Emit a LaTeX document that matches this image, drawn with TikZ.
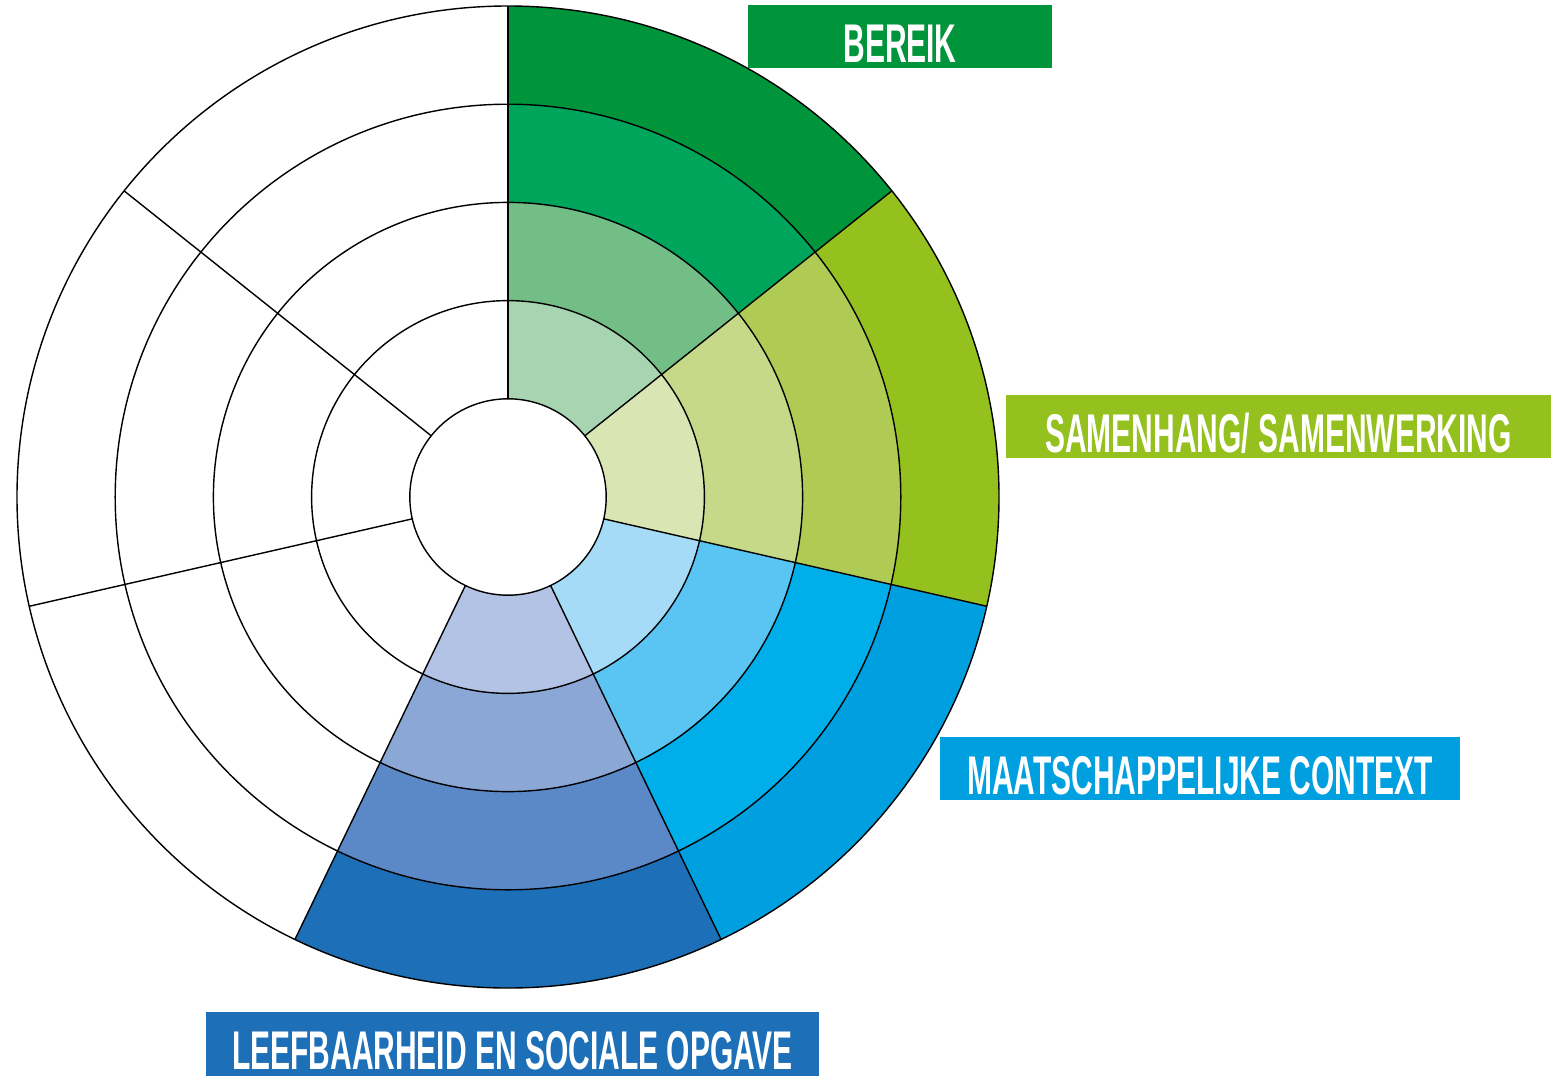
\documentclass[tikz,border=0pt]{standalone}
\usepackage{fontspec}
\newfontfamily\labelfont{Liberation Sans}[FakeStretch=0.55]

\definecolor{ber1}{HTML}{A8D5B1}
\definecolor{ber2}{HTML}{73BE87}
\definecolor{ber3}{HTML}{00A55C}
\definecolor{ber4}{HTML}{00953B}
\definecolor{sam1}{HTML}{D9E5B3}
\definecolor{sam2}{HTML}{C5D988}
\definecolor{sam3}{HTML}{AFCB54}
\definecolor{sam4}{HTML}{95C11F}
\definecolor{maa1}{HTML}{A5DBF7}
\definecolor{maa2}{HTML}{5AC5F2}
\definecolor{maa3}{HTML}{00AFE9}
\definecolor{maa4}{HTML}{009FE0}
\definecolor{lee1}{HTML}{B3C3E5}
\definecolor{lee2}{HTML}{8AA7D6}
\definecolor{lee3}{HTML}{5B88C6}
\definecolor{lee4}{HTML}{1D70B7}

\begin{document}
\begin{tikzpicture}[x=0.01cm,y=0.01cm,line width=0.4pt,
  labelbox/.style={inner xsep=0pt,inner ysep=0pt,minimum height=0.63cm,
    text height=0.51cm,text depth=0pt,text=white,
    font=\labelfont\bfseries\fontsize{15.5pt}{16pt}\selectfont}]

\fill[white] (-508,-578) rectangle (1053,497);
\useasboundingbox (-508,-578) rectangle (1053,497);

%Sectoren
\begin{scope}
\foreach \s/\cl in {0/ber,1/sam,2/maa,3/lee}
  \foreach \k in {1,...,4}{
    \pgfmathsetmacro{\ra}{98.2*\k}
    \pgfmathsetmacro{\rb}{98.2*(\k+1)}
    \pgfmathsetmacro{\aa}{90-\s*360/7}
    \pgfmathsetmacro{\ab}{90-(\s+1)*360/7}
    \fill[\cl\k] (\aa:\ra) arc[start angle=\aa,end angle=\ab,radius=\ra]
      -- (\ab:\rb) arc[start angle=\ab,end angle=\aa,radius=\rb] -- cycle;
  }
\end{scope}

%Ringen en spaken
\begin{scope}
\foreach \k in {1,...,5}
  \draw (0,0) circle[radius=98.2*\k];
\foreach \j in {0,...,6}
  \draw ({90-\j*360/7}:98.2) -- ({90-\j*360/7}:491);
\end{scope}

%Labels
\node[labelbox,fill=ber4,minimum width=3.04cm] (bereik) at (392,460.5) {BEREIK};
\node[labelbox,fill=sam4,minimum width=5.45cm] (samenhang) at (770.5,70.5) {SAMENHANG/ SAMENWERKING};
\node[labelbox,fill=maa4,minimum width=5.20cm] (context) at (692,-271.5) {MAATSCHAPPELIJKE CONTEXT};
\node[labelbox,fill=lee4,minimum width=6.13cm] (leefbaar) at (4.5,-547) {LEEFBAARHEID EN SOCIALE OPGAVE};

\end{tikzpicture}
\end{document}
